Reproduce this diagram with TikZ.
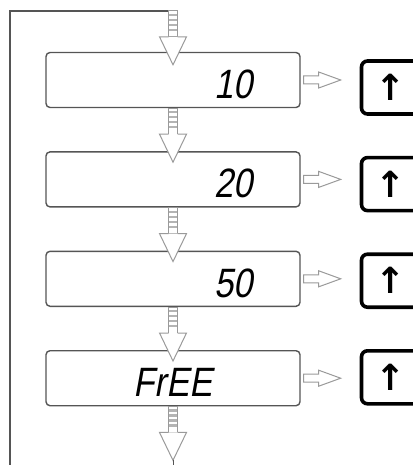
\documentclass[tikz,border=0pt]{standalone}
\usepackage{fontspec}
\usepackage{tikz}
\usetikzlibrary{positioning, calc}
\newfontfamily\lcdfont[FakeStretch=0.84, FakeSlant=0.18]{Liberation Sans}
\newfontfamily\keyfont{DejaVu Sans}
\definecolor{framegray}{HTML}{555555}
\definecolor{arrowgray}{HTML}{9A9A9A}
\definecolor{shaftgray}{HTML}{B4B4B4}
\tikzstyle{dispbox} = [rectangle, rounded corners=4pt, minimum height=55pt, text width=160pt,
  inner xsep=47pt, inner ysep=2pt, text height=37pt, text depth=0pt, align=right,
  draw=framegray, line width=1.4pt, font={\lcdfont\fontsize{41}{41}\selectfont}]
\tikzstyle{keybox} = [rectangle, rounded corners=6pt, minimum width=59pt, minimum height=53pt,
  draw=black, line width=3.6pt, font={\keyfont\bfseries\fontsize{36}{36}\selectfont}]
\tikzstyle{blockarrow} = [draw=arrowgray, fill=white, line width=1pt, line join=miter]
\tikzstyle{loopline} = [draw=framegray, line width=1.6pt]

% hollow down arrow with a ladder shaft
\newcommand{\ladderdown}[1]{%
  \begin{scope}[shift={(#1)}]
    \draw[blockarrow] (-4.5,0) rectangle (4.5,26);
    \foreach \r in {4,9,14,19} \draw[shaftgray, line width=2.2pt] (-3.8,\r) -- (3.8,\r);
    \draw[blockarrow] (-4.5,26) -- (-13.5,26) -- (0,54) -- (13.5,26) -- (4.5,26);
  \end{scope}}
% hollow arrow to the key
\newcommand{\sidearrow}[1]{%
  \begin{scope}[shift={(#1)}]
    \draw[blockarrow] (3,-4) -- (18,-4) -- (18,-8) -- (40,0) -- (18,8) -- (18,4) -- (3,4) -- cycle;
  \end{scope}}

\begin{document}
\begin{tikzpicture}[x=1pt, y=-1pt, node distance=43pt]
  \useasboundingbox (0,0) rectangle (412,465);
  \node (d1) [dispbox] at (173,80) {10};
  \node (d2) [dispbox, below=of d1] {20};
  \node (d3) [dispbox, below=of d2] {50};
  \node (d4) [dispbox, below=of d3, align=center] {FrEE};

  \node (k1) [keybox, right=59pt of d1, yshift=-7.5pt] {↑};
  \node (k2) [keybox, below=40pt of k1] {↑};
  \node (k3) [keybox, below=40pt of k2] {↑};
  \node (k4) [keybox, below=40pt of k3] {↑};

  \coordinate (loop) at ($(d1.north)+(0,-41)$);
  \coordinate (out) at (10,467);
  \coordinate (tail) at ($(d4.south)+(0,54)$);
  \draw[loopline] (loop) -| (out);

  \ladderdown{loop}
  \ladderdown{d1.south}
  \ladderdown{d2.south}
  \ladderdown{d3.south}
  \ladderdown{d4.south}
  \draw[framegray, line width=1pt] (tail) -- ++(0,8);

  \sidearrow{d1.east}
  \sidearrow{d2.east}
  \sidearrow{d3.east}
  \sidearrow{d4.east}
\end{tikzpicture}
\end{document}
